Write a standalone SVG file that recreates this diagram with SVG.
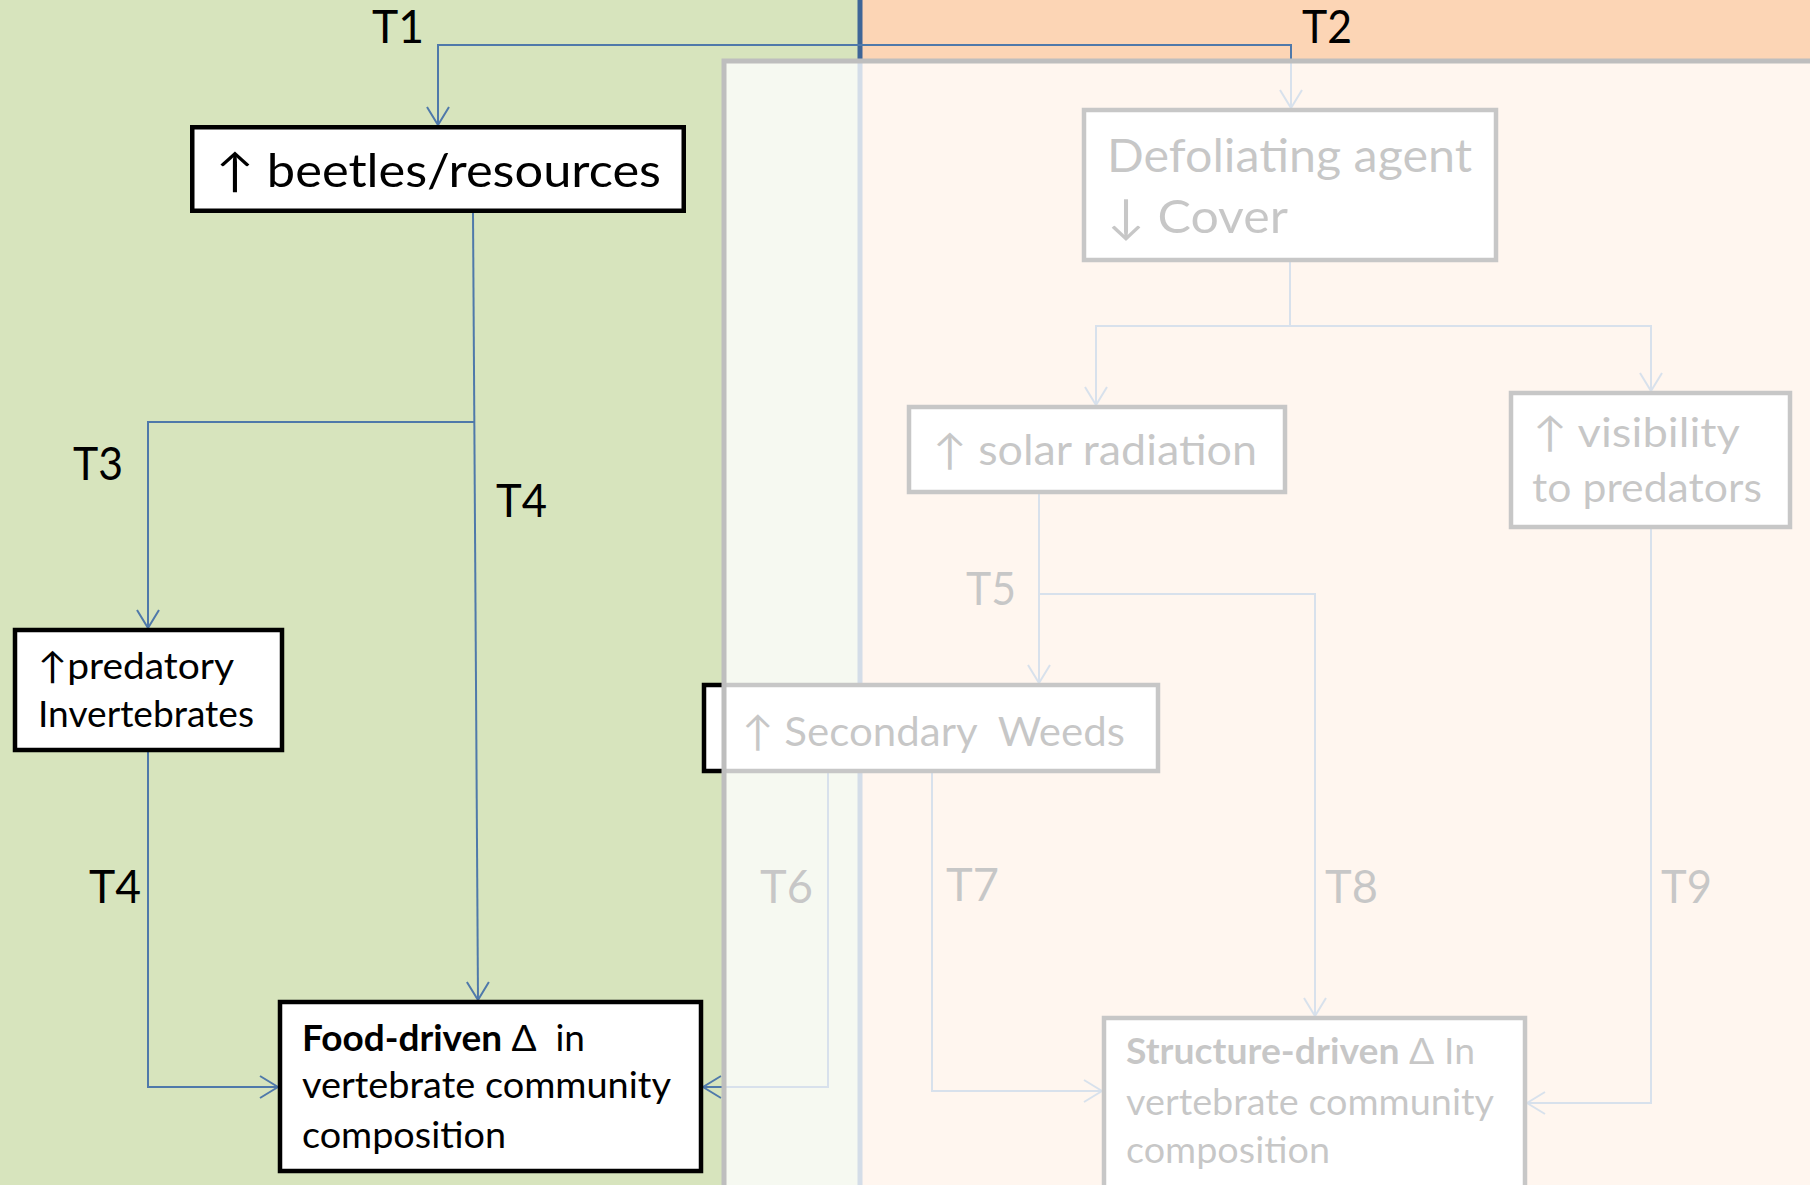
<svg xmlns="http://www.w3.org/2000/svg" width="1810" height="1185" viewBox="0 0 1810 1185">
<defs>
<marker id="arr" markerUnits="userSpaceOnUse" viewBox="0 0 20 24" markerWidth="20" markerHeight="24" refX="19" refY="12" orient="auto">
<path d="M1,1 L19,12 L1,23" fill="none" stroke="#4f79aa" stroke-width="2"/>
</marker>
<style>
.box{fill:#fff;stroke:#000;stroke-width:4.5}
.t{font-family:Lato,'Liberation Sans','DejaVu Sans',sans-serif;fill:#000;white-space:pre}
.lbl{font-size:47px}
.con{fill:none;stroke:#4f79aa;stroke-width:2}
.arw{marker-end:url(#arr)}
.b{font-weight:bold}
</style>
</defs>
<g id="background">
<rect x="0" y="0" width="860" height="1185" fill="#d7e4bd"/>
<rect x="860" y="0" width="950" height="1185" fill="#fcd5b5"/>
<line x1="860" y1="0" x2="860" y2="1185" stroke="#3e6597" stroke-width="5"/>
</g>
<g id="connectors">
<path class="con arw" d="M860,45 H438 V125"/>
<path class="con arw" d="M860,45 H1291 V108"/>
<path class="con arw" d="M473,213 L478,1000"/>
<path class="con arw" d="M474,422 H148 V628"/>
<path class="con arw" d="M148,752 V1087 H278"/>
<path class="con arw" d="M1290,262 V326 H1096 V405"/>
<path class="con arw" d="M1290,326 H1651 V391"/>
<path class="con arw" d="M1039,494 V683"/>
<path class="con arw" d="M1039,594 H1315 V1016"/>
<path class="con arw" d="M828,773 V1087 H703"/>
<path class="con arw" d="M932,773 V1091 H1102"/>
<path class="con arw" d="M1651,529 V1103 H1527"/>
</g>
<g id="labels" class="t lbl">
<text x="372" y="43" textLength="52" lengthAdjust="spacingAndGlyphs">T1</text>
<text x="1302" y="43" textLength="50" lengthAdjust="spacingAndGlyphs">T2</text>
<text x="73" y="480" textLength="50" lengthAdjust="spacingAndGlyphs">T3</text>
<text x="496" y="517" textLength="51" lengthAdjust="spacingAndGlyphs">T4</text>
<text x="89" y="903" textLength="52" lengthAdjust="spacingAndGlyphs">T4</text>
<text x="966" y="605" textLength="50" lengthAdjust="spacingAndGlyphs">T5</text>
<text x="760" y="903" textLength="53" lengthAdjust="spacingAndGlyphs">T6</text>
<text x="946" y="901" textLength="53" lengthAdjust="spacingAndGlyphs">T7</text>
<text x="1325" y="903" textLength="53" lengthAdjust="spacingAndGlyphs">T8</text>
<text x="1661" y="903" textLength="51" lengthAdjust="spacingAndGlyphs">T9</text>
</g>
<g id="node-beetles">
<rect class="box" x="192.25" y="127.25" width="491.5" height="83.5"/>
<text class="t" x="216" y="187" font-size="46" textLength="445" lengthAdjust="spacingAndGlyphs">↑ beetles/resources</text>
</g>
<g id="node-defoliating">
<rect class="box" x="1084" y="110" width="412" height="150"/>
<text class="t" x="1107" y="172" font-size="47" textLength="365" lengthAdjust="spacingAndGlyphs">Defoliating agent</text>
<text class="t" x="1107" y="233" font-size="47" textLength="181" lengthAdjust="spacingAndGlyphs">↓ Cover</text>
</g>
<g id="node-solar">
<rect class="box" x="909" y="407" width="376" height="85"/>
<text class="t" x="933" y="465" font-size="42" textLength="324" lengthAdjust="spacingAndGlyphs">↑ solar radiation</text>
</g>
<g id="node-visibility">
<rect class="box" x="1511" y="393" width="279" height="134"/>
<text class="t" x="1533" y="447" font-size="41" textLength="207" lengthAdjust="spacingAndGlyphs">↑ visibility</text>
<text class="t" x="1532" y="502" font-size="41" textLength="230" lengthAdjust="spacingAndGlyphs">to predators</text>
</g>
<g id="node-weeds">
<rect class="box" x="704" y="685" width="454" height="86"/>
<text class="t" x="742" y="746" font-size="41" textLength="383" lengthAdjust="spacingAndGlyphs">↑ Secondary  Weeds</text>
</g>
<g id="node-predatory">
<rect class="box" x="15" y="630" width="267" height="120"/>
<text class="t" x="38" y="679" font-size="36.5" textLength="196" lengthAdjust="spacingAndGlyphs">↑predatory</text>
<text class="t" x="38" y="727" font-size="36.5" textLength="216" lengthAdjust="spacingAndGlyphs">Invertebrates</text>
</g>
<g id="node-food">
<rect class="box" x="280" y="1002" width="421" height="169"/>
<text class="t" x="302" y="1051" font-size="36.5" textLength="283" lengthAdjust="spacingAndGlyphs"><tspan class="b">Food-driven</tspan> Δ  in</text>
<text class="t" x="302" y="1098" font-size="36.5" textLength="369" lengthAdjust="spacingAndGlyphs">vertebrate community</text>
<text class="t" x="302" y="1148" font-size="36.5" textLength="204" lengthAdjust="spacingAndGlyphs">composition</text>
</g>
<g id="node-structure">
<rect class="box" x="1104" y="1018" width="421" height="200"/>
<text class="t" x="1126" y="1064" font-size="36.5" textLength="349" lengthAdjust="spacingAndGlyphs"><tspan class="b">Structure-driven</tspan> Δ In</text>
<text class="t" x="1126" y="1115" font-size="36.5" textLength="368" lengthAdjust="spacingAndGlyphs">vertebrate community</text>
<text class="t" x="1126" y="1163" font-size="36.5" textLength="204" lengthAdjust="spacingAndGlyphs">composition</text>
</g>
<g id="overlay">
<rect x="724" y="61" width="1200" height="1200" fill="#fff" fill-opacity="0.78" stroke="#bebebe" stroke-width="5"/>
</g>
</svg>
